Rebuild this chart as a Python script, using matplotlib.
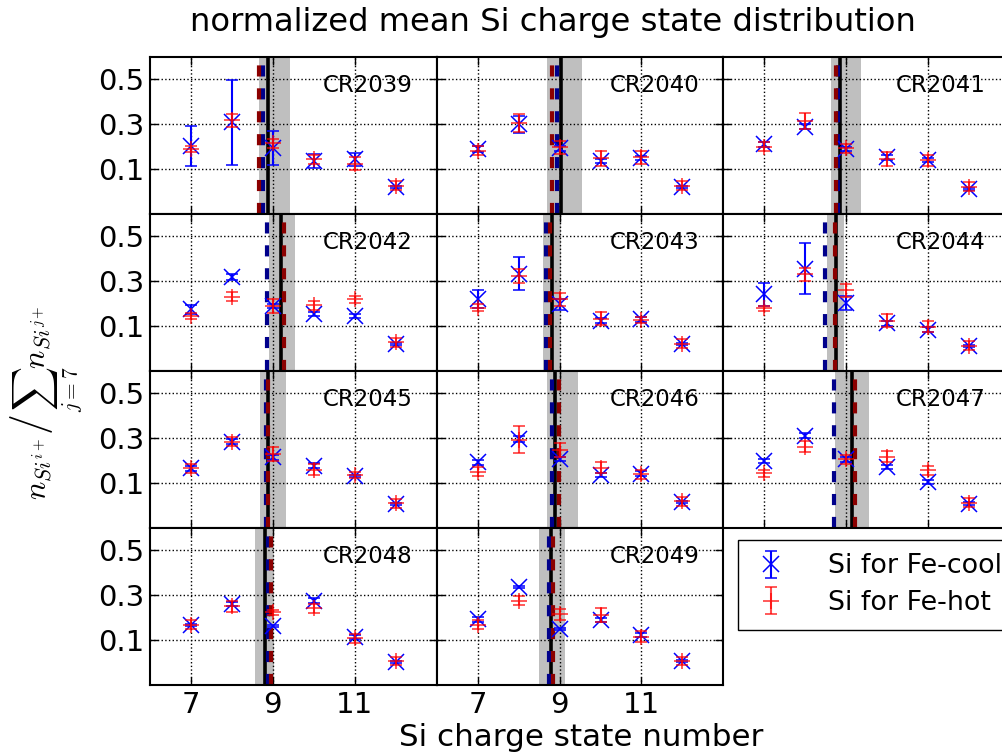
import matplotlib
matplotlib.use("Agg")
import matplotlib.pyplot as plt

plt.rcParams['font.family'] = 'DejaVu Sans'
plt.rcParams['mathtext.fontset'] = 'cm'
plt.rcParams['lines.scale_dashes'] = False

# Si charge states on the x axis
charge_states = [7, 8, 9, 10, 11, 12]
x_ticks = [7, 9, 11]
y_ticks = [0.1, 0.3, 0.5]

rotations = ['CR2039', 'CR2040', 'CR2041', 'CR2042', 'CR2043', 'CR2044',
             'CR2045', 'CR2046', 'CR2047', 'CR2048', 'CR2049']

# normalized Si charge state distribution, Fe-cool selection
cool_mean = [
    [0.204, 0.309, 0.195, 0.137, 0.144, 0.021],
    [0.190, 0.300, 0.193, 0.137, 0.149, 0.021],
    [0.210, 0.290, 0.190, 0.152, 0.140, 0.013],
    [0.175, 0.319, 0.190, 0.155, 0.145, 0.022],
    [0.222, 0.334, 0.197, 0.125, 0.130, 0.021],
    [0.242, 0.357, 0.204, 0.112, 0.085, 0.010],
    [0.166, 0.285, 0.215, 0.178, 0.133, 0.006],
    [0.193, 0.297, 0.207, 0.136, 0.142, 0.016],
    [0.199, 0.312, 0.206, 0.173, 0.106, 0.009],
    [0.169, 0.261, 0.164, 0.276, 0.115, 0.004],
    [0.193, 0.336, 0.149, 0.190, 0.122, 0.007],
]
cool_err = [
    [0.090, 0.190, 0.075, 0.030, 0.029, 0.005],
    [0.012, 0.037, 0.010, 0.008, 0.010, 0.005],
    [0.010, 0.010, 0.010, 0.010, 0.010, 0.005],
    [0.020, 0.015, 0.010, 0.008, 0.008, 0.005],
    [0.040, 0.075, 0.024, 0.010, 0.010, 0.005],
    [0.050, 0.113, 0.030, 0.010, 0.010, 0.005],
    [0.010, 0.010, 0.010, 0.010, 0.005, 0.005],
    [0.010, 0.015, 0.010, 0.010, 0.010, 0.005],
    [0.010, 0.010, 0.010, 0.010, 0.010, 0.005],
    [0.005, 0.010, 0.005, 0.010, 0.010, 0.005],
    [0.010, 0.005, 0.005, 0.010, 0.010, 0.005],
]

# normalized Si charge state distribution, Fe-hot selection
hot_mean = [
    [0.190, 0.318, 0.215, 0.143, 0.125, 0.025],
    [0.182, 0.305, 0.197, 0.148, 0.153, 0.025],
    [0.200, 0.316, 0.194, 0.145, 0.140, 0.021],
    [0.145, 0.231, 0.190, 0.194, 0.219, 0.028],
    [0.182, 0.324, 0.219, 0.133, 0.127, 0.021],
    [0.179, 0.331, 0.260, 0.125, 0.097, 0.013],
    [0.166, 0.285, 0.230, 0.160, 0.136, 0.010],
    [0.151, 0.293, 0.248, 0.169, 0.139, 0.019],
    [0.143, 0.263, 0.206, 0.218, 0.158, 0.013],
    [0.169, 0.251, 0.224, 0.243, 0.109, 0.007],
    [0.169, 0.276, 0.216, 0.212, 0.115, 0.007],
]
hot_err = [
    [0.012, 0.030, 0.020, 0.020, 0.030, 0.020],
    [0.020, 0.040, 0.030, 0.033, 0.030, 0.020],
    [0.020, 0.035, 0.020, 0.030, 0.025, 0.020],
    [0.015, 0.020, 0.030, 0.020, 0.015, 0.020],
    [0.015, 0.030, 0.030, 0.030, 0.015, 0.020],
    [0.010, 0.028, 0.028, 0.030, 0.025, 0.020],
    [0.020, 0.020, 0.030, 0.025, 0.015, 0.020],
    [0.020, 0.060, 0.030, 0.025, 0.020, 0.020],
    [0.015, 0.025, 0.020, 0.025, 0.020, 0.020],
    [0.020, 0.025, 0.010, 0.020, 0.020, 0.020],
    [0.020, 0.020, 0.025, 0.030, 0.025, 0.020],
]

# mean charge state markers per rotation
mean_all = [8.886, 9.024, 8.846, 9.21, 8.82, 8.75, 8.88, 8.90, 9.15, 8.797, 8.80]
mean_cool = [8.763, 8.934, 8.81, 8.846, 8.666, 8.49, 8.84, 8.82, 8.707, 8.89, 8.75]
mean_hot = [8.665, 8.82, 8.75, 9.27, 8.763, 8.717, 8.89, 8.98, 9.21, 8.95, 8.84]
band_lo = [8.667, 8.698, 8.62, 8.90, 8.60, 8.52, 8.685, 8.70, 8.72, 8.57, 8.50]
band_hi = [9.415, 9.537, 9.35, 9.54, 9.03, 8.94, 9.31, 9.44, 9.55, 9.03, 9.13]

W, H = 1002, 754
fig = plt.figure(figsize=(W / 100, H / 100), dpi=100)

col_left = [150, 436.7, 723.3]
col_w = 286.7
row_top = [57, 214, 371, 528]
row_h = 157

handles = None
for i, name in enumerate(rotations):
    r, c = divmod(i, 3)
    rect = [col_left[c] / W, 1 - (row_top[r] + row_h) / H, col_w / W, row_h / H]
    ax = fig.add_axes(rect)
    ax.set_xlim(6, 13)
    ax.set_ylim(-0.1, 0.6)

    ax.axvspan(band_lo[i], band_hi[i], color='#bfbfbf', lw=0, zorder=0.5)
    ax.axvline(mean_all[i], color='black', lw=2.6, zorder=2)
    ax.axvline(mean_cool[i], color='#00008b', lw=3, dashes=(8, 8.5), zorder=2.1)
    ax.axvline(mean_hot[i], color='#8b0000', lw=3, dashes=(8, 8.5), zorder=2.2)

    eb_cool = ax.errorbar(charge_states, cool_mean[i], yerr=cool_err[i],
                          fmt='x', color='blue', ms=12, mew=1.1, elinewidth=1.5,
                          capsize=4, capthick=1.5, zorder=3,
                          label='Si for Fe-cool')
    eb_hot = ax.errorbar(charge_states, hot_mean[i], yerr=hot_err[i],
                         fmt='+', color='red', ms=12, mew=1.3, elinewidth=1.5,
                         capsize=4, capthick=1.5, alpha=0.7, zorder=4,
                         label='Si for Fe-hot')
    if handles is None:
        handles = [eb_cool, eb_hot]

    ax.set_xticks(x_ticks)
    ax.set_yticks(y_ticks)
    ax.set_yticklabels(['0.1', '0.3', '0.5'])
    ax.grid(True, color='black', linestyle=':', linewidth=1.0, zorder=1)
    ax.set_axisbelow(True)
    ax.tick_params(direction='in', top=True, right=True, length=6, width=1,
                   labelsize=21, pad=4)
    for sp in ax.spines.values():
        sp.set_linewidth(1.5)
    if c != 0:
        ax.tick_params(labelleft=False)
    if r != 3:
        ax.tick_params(labelbottom=False)
    ax.text(0.603, 0.778, name, transform=ax.transAxes, fontsize=16.5,
            ha='left', va='baseline', zorder=5)

fig.legend(handles, ['Si for Fe-cool', 'Si for Fe-hot'], loc='upper left',
           bbox_to_anchor=(738 / W, 1 - 540 / H), fontsize=19.4, fancybox=False,
           edgecolor='black', framealpha=1, borderaxespad=0, numpoints=1,
           handlelength=1.45, handletextpad=1.4, borderpad=0.5,
           labelspacing=0.4)

fig.text(553 / W, 1 - 22 / H, 'normalized mean Si charge state distribution',
         ha='center', va='center', fontsize=23.2)
fig.text(581 / W, 1 - 737 / H, 'Si charge state number',
         ha='center', va='center', fontsize=22.3)

# y label built from three rotated pieces so the slash can be tall
renderer = fig.canvas.get_renderer()
x_base = 46
y_start = H - 500
pieces = [(r'$n_{Si^{i+}}$', 22, 0, 3),
          (r'$/$', 30, -4, 3),
          (r'$\sum_{j=7}n_{Si^{j+}}$', 22, 0, 0)]
pos = y_start
for txt, size, dx, gap in pieces:
    t = fig.text((x_base + dx) / W, pos / H, txt, rotation=90,
                 rotation_mode='anchor', ha='left', va='baseline', fontsize=size)
    bb = t.get_window_extent(renderer)
    pos = bb.y1 + gap

fig.savefig('out.png', dpi=100)
